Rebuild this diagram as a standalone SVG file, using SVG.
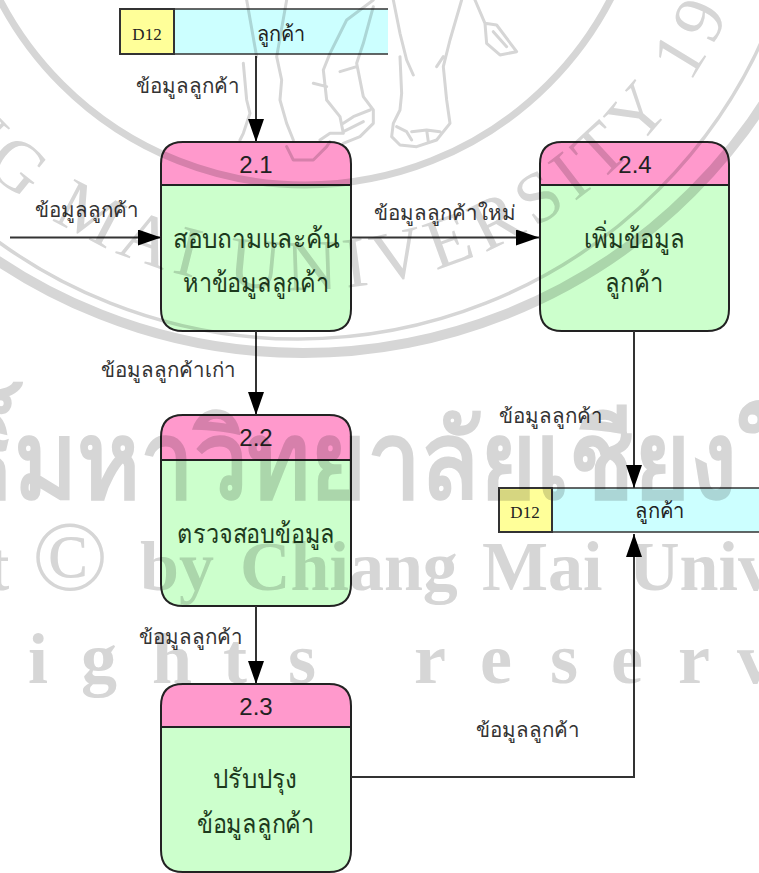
<svg xmlns="http://www.w3.org/2000/svg" width="759" height="873" viewBox="0 0 759 873">
<style>
text{font-family:"Liberation Sans","Noto Sans",sans-serif;fill:#222;text-anchor:middle}
.num{font-size:24px}
.lab{font-size:27px;fill:#1d3a1d}
.sl{font-size:20.500px;fill:#333}
.id{font-family:"Liberation Serif",serif;font-size:17px}
.st{font-size:21px}
.head{fill:#ff99cc;stroke:#222;stroke-width:2}
.body{fill:#ccffcc;stroke:#222;stroke-width:2}
.y{fill:#ffff99;stroke:#333;stroke-width:2}
.c{fill:#ccffff}
.e{stroke:#333;stroke-width:2;fill:none}
.f{fill:none;stroke:#333;stroke-width:1.6}
.wm{mix-blend-mode:multiply}
.wm text{fill:#d6d6d6;font-family:"Liberation Serif",serif}
.ring{fill:none;stroke:#d6d6d6}
.ele{fill:none;stroke:#d6d6d6;stroke-width:9;stroke-linejoin:round;stroke-linecap:round}
</style>
<defs>
<marker id="a" markerUnits="userSpaceOnUse" markerWidth="24" markerHeight="16" refX="23" refY="8" orient="auto"><path d="M0 0L23 8L0 16Z" fill="#000"/></marker>
<path id="seal" d="M-170 -180A470 470 0 0 0 770 -180"/>
</defs>
<rect width="759" height="873" fill="#fff"/>
<g id="store-top">
<rect x="174" y="9" width="214" height="45" class="c"/>
<path class="f" d="M388 9H174V54H388"/>
<rect class="y" x="120" y="9" width="54" height="45"/>
<text class="id" x="147" y="40">D12</text><text class="st" x="281" y="41" textLength="49" lengthAdjust="spacingAndGlyphs">ลูกค้า</text>
</g>
<g id="store-right">
<rect x="552" y="488" width="207" height="44" class="c"/>
<path class="f" d="M759 488H552V532H759"/>
<rect class="y" x="499" y="488" width="53" height="44"/>
<text class="id" x="525" y="518">D12</text><text class="st" x="660" y="518" textLength="50" lengthAdjust="spacingAndGlyphs">ลูกค้า</text>
</g>
<g id="node-2-1">
<path class="body" d="M161 185H351V309Q351 331 329 331H183Q161 331 161 309Z"/>
<path class="head" d="M161 185V164Q161 142 183 142H329Q351 142 351 164V185Z"/>
<text class="num" x="256" y="173">2.1</text>
<text class="lab" x="256" y="248" textLength="166" lengthAdjust="spacingAndGlyphs">สอบถามและค้น</text><text class="lab" x="256" y="292" textLength="146" lengthAdjust="spacingAndGlyphs">หาข้อมูลลูกค้า</text>
</g>
<g id="node-2-4">
<path class="body" d="M540 185H729V309Q729 331 707 331H562Q540 331 540 309Z"/>
<path class="head" d="M540 185V164Q540 142 562 142H707Q729 142 729 164V185Z"/>
<text class="num" x="635" y="173">2.4</text>
<text class="lab" x="634.500" y="248" textLength="101" lengthAdjust="spacingAndGlyphs">เพิ่มข้อมูล</text><text class="lab" x="634" y="292" textLength="58" lengthAdjust="spacingAndGlyphs">ลูกค้า</text>
</g>
<g id="node-2-2">
<path class="body" d="M161 460H351V584Q351 606 329 606H183Q161 606 161 584Z"/>
<path class="head" d="M161 460V437Q161 415 183 415H329Q351 415 351 437V460Z"/>
<text class="num" x="256" y="446">2.2</text>
<text class="lab" x="256" y="543" textLength="158" lengthAdjust="spacingAndGlyphs">ตรวจสอบข้อมูล</text>
</g>
<g id="node-2-3">
<path class="body" d="M161 727H351V850Q351 872 329 872H183Q161 872 161 850Z"/>
<path class="head" d="M161 727V706Q161 684 183 684H329Q351 684 351 706V727Z"/>
<text class="num" x="256" y="715">2.3</text>
<text class="lab" x="255" y="788" textLength="84" lengthAdjust="spacingAndGlyphs">ปรับปรุง</text><text class="lab" x="255.500" y="833" textLength="117" lengthAdjust="spacingAndGlyphs">ข้อมูลลูกค้า</text>
</g>
<g id="connectors">
<path class="e" marker-end="url(#a)" d="M256 56V142"/>
<path class="e" marker-end="url(#a)" d="M10 237.500H161"/>
<path class="e" marker-end="url(#a)" d="M351 237.500H539"/>
<path class="e" marker-end="url(#a)" d="M256 331V415"/>
<path class="e" marker-end="url(#a)" d="M256 606V684"/>
<path class="e" marker-end="url(#a)" d="M634 331V488"/>
<path class="e" marker-end="url(#a)" d="M351 777H634V534"/>
</g>
<g id="flow-labels">
<text class="sl" x="187.500" y="93">ข้อมูลลูกค้า</text>
<text class="sl" x="87" y="217">ข้อมูลลูกค้า</text>
<text class="sl" x="444.500" y="220">ข้อมูลลูกค้าใหม่</text>
<text class="sl" x="168.500" y="377">ข้อมูลลูกค้าเก่า</text>
<text class="sl" x="551" y="423">ข้อมูลลูกค้า</text>
<text class="sl" x="191" y="644">ข้อมูลลูกค้า</text>
<text class="sl" x="528" y="737">ข้อมูลลูกค้า</text>
</g>
<g class="wm">
<circle class="ring" cx="305" cy="-159" r="344" stroke-width="7"/>
<circle class="ring" cx="298" cy="-171" r="510" stroke-width="3.500"/>
<circle class="ring" cx="303" cy="-197" r="550" stroke-width="10"/>
<text font-size="72" style="text-anchor:start"><textPath href="#seal" startOffset="124" letter-spacing="7.700">CHIANG MAI UNIVERSITY 1964</textPath></text>
<g transform="translate(230 0) scale(.3333)">
<path class="ele" d="M490 0L510 100L530 180L550 225M510 170L515 280L510 330L490 370L485 410L510 435L560 440L620 420L660 370L650 300L640 200L660 120L695 0M620 200L640 170M500 380L530 395L545 420M545 395L590 390L595 425M590 390L630 395"/>
<path class="ele" d="M170 0L140 170L155 240L150 300L170 370L190 420M170 440L190 480L250 480L290 440L300 425M430 0L350 60L300 160L280 210L290 300L330 350L340 400L300 400L270 420M430 20L400 130L380 190L400 290L430 330L430 370L390 410L340 430M250 250L290 260M330 215L380 200M340 370L370 350L420 330M340 395L360 385L400 365"/>
<path class="ele" d="M50 0L80 170M40 190L50 300L60 340L40 400L30 420"/>
<path class="ele" d="M735 0L765 70L800 75L860 155L810 165L770 130L765 70M790 95L830 140"/>
</g>
<text font-size="108" font-weight="700" transform="translate(-44 498) scale(.89 1)" style="text-anchor:start">ธิ์มหาวิทยาลัยเชียงใหม่</text>
<text font-size="70" font-weight="700" y="590" style="text-anchor:start"><tspan x="-14">t</tspan><tspan x="32" font-size="100" font-weight="400">©</tspan><tspan x="140">by</tspan><tspan x="240">Chiang</tspan><tspan x="482">Mai</tspan><tspan x="629">University</tspan></text>
<text font-size="72" font-weight="700" y="683" x="38 99 172 235 302 430 496 564 627 694 755">ightsreserv</text>
</g>
</svg>
